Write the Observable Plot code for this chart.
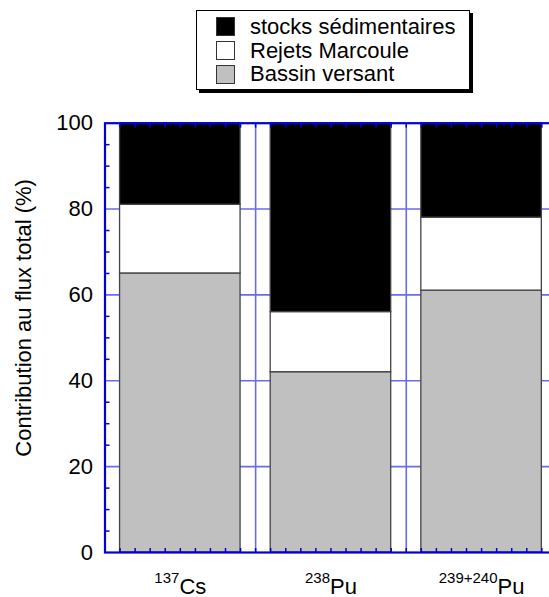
<!DOCTYPE html>
<html>
<head>
<meta charset="utf-8">
<script src="https://cdn.jsdelivr.net/npm/d3@7"></script>
<script src="https://cdn.jsdelivr.net/npm/@observablehq/plot@0.6"></script>
<style>
  html, body { margin: 0; padding: 0; background: #fff; }
  body { font-family: "Liberation Sans", Arial, Helvetica, sans-serif; }
  #wrap { position: relative; width: 549px; height: 597px; overflow: hidden; }
  #legend {
    position: absolute; left: 196px; top: 10px; width: 274px; height: 80px;
    box-sizing: border-box; border: 1.5px solid #000; box-shadow: 3px 3px 0 #000;
    background: #fff; padding-top: 4px; z-index: 2;
  }
  .lrow { display: flex; align-items: center; height: 23.8px; }
  .sw { width: 19px; height: 19px; box-sizing: border-box; border: 1.5px solid #333; margin-left: 19px; }
  .lt { margin-left: 15px; font-size: 22px; line-height: 1; color: #000; white-space: nowrap; }
</style>
</head>
<body>
<div id="wrap">
  <div id="legend"></div>
  <div id="chart"></div>
</div>
<script>
// ---- data ----
const categories = ["137Cs", "238Pu", "239+240Pu"];
const isotopeNumbers = ["137", "238", "239+240"];
const elements = ["Cs", "Pu", "Pu"];
const seriesNames = ["Bassin versant", "Rejets Marcoule", "stocks sédimentaires"];
const bassinVersant = [65, 42, 61];
const rejetsMarcoule = [16, 14, 17];
const stocksSedimentaires = [19, 44, 22];
const seriesColors = ["#c0c0c0", "#ffffff", "#000000"];
const legendOrder = ["stocks sédimentaires", "Rejets Marcoule", "Bassin versant"];
const yTicks = [0, 20, 40, 60, 80, 100];
const yLabel = "Contribution au flux total (%)";

// ---- build stacked rows ----
const seriesValues = [bassinVersant, rejetsMarcoule, stocksSedimentaires];
const rows = [];
categories.forEach((c, i) => {
  let base = 0;
  seriesNames.forEach((s, j) => {
    const v = seriesValues[j][i];
    rows.push({ i, category: c, series: s, y1: base, y2: base + v });
    base += v;
  });
});

const blue = "#0000d8";
const gridBlue = "#6a6aee";
const minorY = d3.range(5, 100, 5).filter(v => v % 20 !== 0);
const minorX = d3.range(0, categories.length * 10 + 1).map(k => k / 10);

const chart = Plot.plot({
  width: 549,
  height: 597,
  marginLeft: 104.5,
  marginRight: -7.4,
  marginTop: 122.7,
  marginBottom: 45,
  style: { fontFamily: "'Liberation Sans', Arial, Helvetica, sans-serif", fontSize: "22px", color: "#000", background: "transparent" },
  x: { domain: [0, categories.length] },
  y: { domain: [0, 100] },
  color: { domain: seriesNames, range: seriesColors },
  marks: [
    Plot.ruleY(yTicks.filter(t => t > 0 && t < 100), { stroke: gridBlue, strokeWidth: 1.6 }),
    Plot.ruleX(d3.range(1, categories.length), { stroke: gridBlue, strokeWidth: 1.6 }),
    Plot.rect(rows, {
      x1: d => d.i + 0.1, x2: d => d.i + 0.9,
      y1: "y1", y2: "y2",
      fill: "series", stroke: "#444", strokeWidth: 1.3
    }),
    Plot.axisY(yTicks, { anchor: "left", tickSize: 0, tickPadding: 12, fontSize: 22, label: null }),
    Plot.axisY(minorY, { anchor: "left", tickSize: -5, tickFormat: () => "", stroke: blue, strokeWidth: 1.5, label: null }),
    Plot.axisX(minorX, { anchor: "bottom", tickSize: -4, tickFormat: () => "", stroke: blue, strokeWidth: 1.5, label: null }),
    Plot.axisX(minorX, { anchor: "top", tickSize: -4, tickFormat: () => "", stroke: blue, strokeWidth: 1.5, label: null }),
    Plot.frame({ stroke: blue, strokeWidth: 2.2 }),
    Plot.text([yLabel], { frameAnchor: "left", textAnchor: "middle", rotate: -90, dx: -81, dy: -20, fontSize: 22, fill: "#000" }),
    Plot.text(categories, { x: (d, i) => i + 0.5, frameAnchor: "bottom", dy: 41, text: d => d, fontSize: 22, fill: "#000" })
  ]
});

document.getElementById("chart").appendChild(chart);

// superscript isotope labels
d3.select(chart).selectAll("text")
  .filter(function () { return categories.includes(this.textContent); })
  .each(function () {
    const k = categories.indexOf(this.textContent);
    const t = d3.select(this);
    t.attr("y", null).attr("dy", null).text(null);
    t.append("tspan").attr("font-size", 15).attr("dy", -11).text(isotopeNumbers[k]);
    t.append("tspan").attr("font-size", 22).attr("dy", 11).text(elements[k]);
  });

// legend
const colorOf = Object.fromEntries(seriesNames.map((s, j) => [s, seriesColors[j]]));
const legend = d3.select("#legend");
legendOrder.forEach(s => {
  const row = legend.append("div").attr("class", "lrow");
  row.append("div").attr("class", "sw").style("background", colorOf[s]);
  row.append("div").attr("class", "lt").text(s);
});
</script>
</body>
</html>
